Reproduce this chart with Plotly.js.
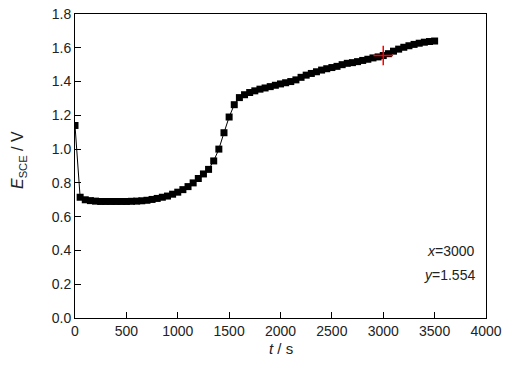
<!DOCTYPE html>
<html>
<head>
<meta charset="utf-8">
<script src="https://cdn.plot.ly/plotly-3.0.1.min.js"></script>
<style>html,body{margin:0;padding:0;background:#fff;}#chart{width:520px;height:370px;}</style>
</head>
<body>
<div id="chart"></div>
<script>
var times = [0,50,100,150,200,250,300,350,400,450,500,550,600,650,700,750,800,850,900,950,
  1000,1050,1100,1150,1200,1250,1300,1350,1400,1450,1500,1550,1600,1650,1700,1750,1800,1850,1900,1950,
  2000,2050,2100,2150,2200,2250,2300,2350,2400,2450,2500,2550,2600,2650,2700,2750,2800,2850,2900,2950,
  3000,3050,3100,3150,3200,3250,3300,3350,3400,3450,3500];
var potential = [1.14,0.715,0.700,0.695,0.692,0.690,0.690,0.690,0.690,0.690,0.690,0.691,0.692,0.694,0.697,0.702,0.708,0.715,0.722,0.733,
  0.745,0.760,0.778,0.800,0.826,0.853,0.880,0.930,1.000,1.097,1.190,1.263,1.305,1.322,1.335,1.345,1.355,1.362,1.370,1.378,
  1.386,1.393,1.400,1.410,1.425,1.438,1.448,1.458,1.468,1.476,1.483,1.490,1.500,1.508,1.512,1.518,1.525,1.532,1.540,1.546,
  1.554,1.565,1.580,1.592,1.603,1.612,1.620,1.627,1.633,1.637,1.640];
var cursorX = [3000];
var cursorY = [1.554];
var xTicks = [0,500,1000,1500,2000,2500,3000,3500,4000];
var yTicks = [0.0,0.2,0.4,0.6,0.8,1.0,1.2,1.4,1.6,1.8];

var font = "Arial, 'Liberation Sans', sans-serif";

var traces = [
  {
    x: times, y: potential, type: 'scatter', mode: 'lines+markers',
    line: {color: '#000', width: 1},
    marker: {symbol: 'square', size: 7, color: '#000'},
    hoverinfo: 'x+y'
  },
  {
    x: cursorX, y: cursorY, type: 'scatter', mode: 'markers',
    marker: {symbol: 'cross-thin-open', size: 14, color: '#ff0000', line: {color: '#ff0000', width: 1.5}},
    hoverinfo: 'skip'
  }
];

var axisCommon = {
  showgrid: false, zeroline: false,
  showline: true, linecolor: '#000', linewidth: 1, mirror: true,
  ticks: 'inside', ticklen: 6, tickcolor: '#000', tickwidth: 1,
  tickfont: {family: font, size: 14, color: '#222'},
  tickmode: 'array', automargin: false
};

var layout = {
  width: 520, height: 370,
  margin: {l: 75, r: 34, t: 14, b: 52},
  paper_bgcolor: '#fff', plot_bgcolor: '#fff',
  showlegend: false,
  xaxis: Object.assign({}, axisCommon, {
    range: [0, 4000], tickvals: xTicks, ticktext: xTicks.map(String)
  }),
  yaxis: Object.assign({}, axisCommon, {
    range: [0, 1.8], tickvals: yTicks, ticktext: yTicks.map(function(v){return v.toFixed(1);})
  }),
  annotations: [
    {xref: 'paper', yref: 'paper', x: 0.5, y: -0.1, xanchor: 'center', yanchor: 'middle', showarrow: false,
     text: '<i>t</i> / s', font: {family: font, size: 15, color: '#222'}},
    {xref: 'paper', yref: 'paper', x: -0.136, y: 0.52, xanchor: 'center', yanchor: 'middle', showarrow: false,
     textangle: -90, text: '<i>E</i><sub>SCE</sub> / V', font: {family: font, size: 16, color: '#222'}},
    {xref: 'paper', yref: 'paper', x: 0.977, y: 0.22, xanchor: 'right', yanchor: 'middle', showarrow: false,
     text: '<i>x</i>=3000', font: {family: font, size: 14, color: '#222'}},
    {xref: 'paper', yref: 'paper', x: 0.977, y: 0.14, xanchor: 'right', yanchor: 'middle', showarrow: false,
     text: '<i>y</i>=1.554', font: {family: font, size: 14, color: '#222'}}
  ]
};

Plotly.newPlot('chart', traces, layout, {displayModeBar: false, staticPlot: true});
</script>
</body>
</html>
